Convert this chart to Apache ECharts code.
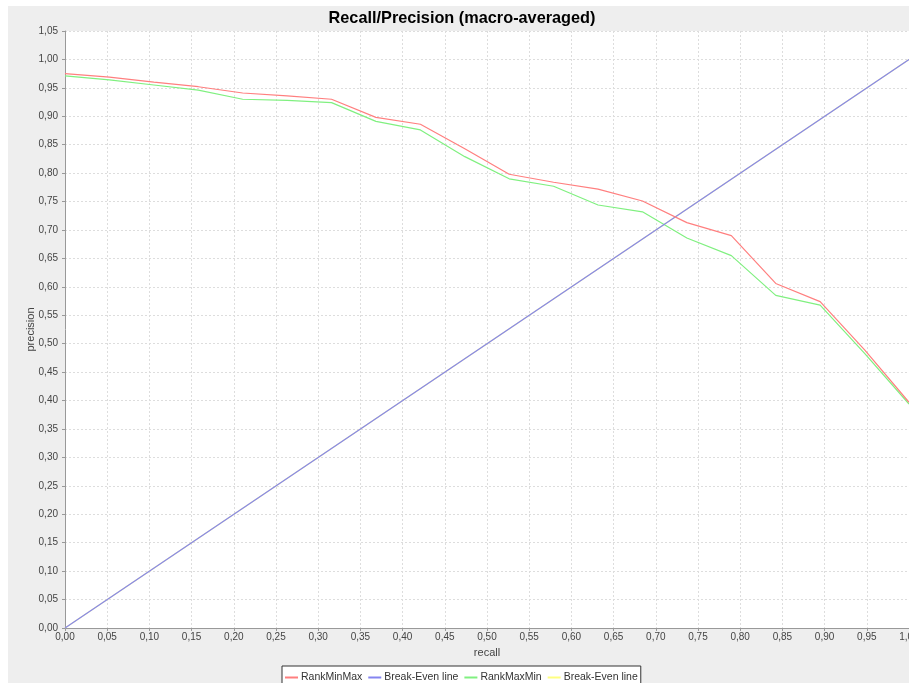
<!DOCTYPE html>
<html>
<head>
<meta charset="utf-8">
<title>Recall/Precision (macro-averaged)</title>
<script src="https://cdn.jsdelivr.net/npm/echarts@6/dist/echarts.min.js"></script>
<style>
  html, body { margin: 0; padding: 0; background: #ffffff; overflow: hidden; }
  #chart { width: 909px; height: 683px; }
</style>
</head>
<body>
<div id="chart"></div>
<script>
// Recall levels (x) shared by both ranking curves
const recall = [0, 0.0526, 0.1053, 0.1579, 0.2105, 0.2632, 0.3158, 0.3684, 0.4211, 0.4737,
                0.5263, 0.5789, 0.6316, 0.6842, 0.7368, 0.7895, 0.8421, 0.8947, 0.9474, 1.0];
// Macro-averaged precision per recall level
const rankMinMax = [0.975, 0.969, 0.960, 0.952, 0.941, 0.936, 0.930, 0.898, 0.886, 0.843,
                    0.798, 0.784, 0.772, 0.751, 0.713, 0.690, 0.606, 0.574, 0.489, 0.397];
const rankMaxMin = [0.971, 0.964, 0.955, 0.946, 0.930, 0.928, 0.924, 0.891, 0.876, 0.829,
                    0.790, 0.777, 0.744, 0.732, 0.686, 0.655, 0.585, 0.568, 0.483, 0.394];
// Break-even line endpoints (precision == recall)
const breakEvenRecall = [0, 1];
const breakEvenPrecision = [0, 1];

const seriesNames = ['RankMinMax', 'Break-Even line', 'RankMaxMin', 'Break-Even line '];
const seriesColors = ['#ff7f7f', '#8585f0', '#80f080', '#ffff80'];

const pairs = (xs, ys) => xs.map((x, i) => [x, ys[i]]);
const fmt = v => v.toFixed(2).replace('.', ',');

const chart = echarts.init(document.getElementById('chart'), null, { renderer: 'canvas' });

const lineSeries = (name, color, data, z) => ({
  name: name,
  type: 'line',
  data: data,
  showSymbol: false,
  symbol: 'none',
  color: color,
  lineStyle: { color: color, width: 1.2 },
  z: z,
  animation: false
});

chart.setOption({
  backgroundColor: '#ffffff',
  animation: false,
  textStyle: { fontFamily: 'Liberation Sans, Arial, sans-serif' },
  graphic: [{
    type: 'rect',
    shape: { x: 8, y: 6, width: 920, height: 700 },
    style: { fill: '#eeeeee' },
    z: -10,
    silent: true
  }, {
    type: 'text',
    x: 462,
    y: 11,
    style: {
      text: 'Recall/Precision (macro-averaged)',
      fill: '#000000',
      font: 'bold 16.3px "Liberation Sans", Arial, sans-serif',
      textAlign: 'center',
      textVerticalAlign: 'top'
    },
    z: 10,
    silent: true
  }],
  grid: {
    left: 65, right: 0, top: 31, bottom: 55,
    outerBoundsMode: 'none',
    containLabel: false,
    show: true,
    backgroundColor: '#ffffff',
    borderWidth: 0
  },
  legend: {
    left: 282,
    top: 666,
    padding: [6, 3, 4, 3],
    itemGap: 6,
    itemWidth: 13,
    itemHeight: 2,
    icon: 'rect',
    borderColor: '#333333',
    borderWidth: 1,
    backgroundColor: '#ffffff',
    borderRadius: 0,
    data: seriesNames,
    formatter: n => n.trim(),
    textStyle: { fontSize: 10.5, color: '#333333', padding: [0, 0, 0, -2] }
  },
  xAxis: {
    type: 'value',
    min: 0, max: 1, interval: 0.05,
    name: 'recall',
    nameLocation: 'middle',
    nameGap: 19,
    nameMoveOverlap: false,
    nameTextStyle: { fontSize: 11, color: '#444444' },
    axisLine: { show: true, lineStyle: { color: '#999999', width: 1 } },
    axisTick: { show: true, length: 3, lineStyle: { color: '#999999' } },
    axisLabel: { fontSize: 10, color: '#444444', margin: 4, formatter: fmt, showMaxLabel: true, hideOverlap: false },
    splitLine: { show: true, lineStyle: { color: '#dddddd', type: [2, 2], width: 1 } }
  },
  yAxis: {
    type: 'value',
    min: 0, max: 1.05, interval: 0.05,
    name: 'precision',
    nameLocation: 'middle',
    nameGap: 29,
    nameRotate: 90,
    nameMoveOverlap: false,
    nameTextStyle: { fontSize: 11, color: '#444444' },
    axisLine: { show: true, lineStyle: { color: '#999999', width: 1 } },
    axisTick: { show: true, length: 3, lineStyle: { color: '#999999' } },
    axisLabel: { fontSize: 10, color: '#444444', margin: 7, formatter: fmt },
    splitLine: { show: true, lineStyle: { color: '#dddddd', type: [2, 2], width: 1 } }
  },
  series: [
    lineSeries(seriesNames[3], seriesColors[3], pairs(breakEvenRecall, breakEvenPrecision), 1),
    lineSeries(seriesNames[2], seriesColors[2], pairs(recall, rankMaxMin), 2),
    lineSeries(seriesNames[1], seriesColors[1], pairs(breakEvenRecall, breakEvenPrecision), 3),
    lineSeries(seriesNames[0], seriesColors[0], pairs(recall, rankMinMax), 4)
  ]
});
</script>
</body>
</html>
